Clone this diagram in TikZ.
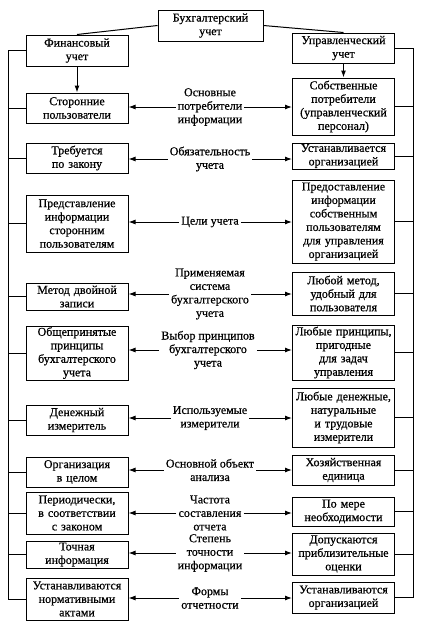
\documentclass[tikz,border=0pt]{standalone}
\usepackage{fontspec}
\setmainfont{Liberation Serif}[AutoFakeBold=0.6]
\usetikzlibrary{arrows.meta}

\begin{document}
\begin{tikzpicture}[x=1pt, y=-1pt,
    box/.style={draw, line width=1pt, align=center, text width=99pt, inner xsep=1.5pt, inner ysep=1pt, font=\fontsize{12}{13.5}\selectfont\bfseries},
    lbl/.style={align=center, inner sep=2pt, font=\fontsize{12}{13.5}\selectfont\bfseries},
    arr/.style={-{Latex[length=7pt,width=5pt]}, line width=1pt},
    rail/.style={line width=1pt}]
    \useasboundingbox (0,0) rectangle (429,625);

    % Вершина схемы
    \node (buh) at (210.5,25.5) [box, text width=102pt, minimum height=31] {Бухгалтерский\\учет};
    \node (fin) at (77,50.5) [box, minimum height=31] {Финансовый\\учет};
    \node (upr) at (343.5,48) [box, minimum height=30] {Управленческий\\учет};
    \draw[rail] (buh.west) -- (fin.north);
    \draw[rail] (buh.east) -- (upr.north);

    % Левая колонка: финансовый учет
    \node (storon) at (77,108) [box, minimum height=30] {Сторонние\\пользователи};
    \node (treb) at (77,158) [box, minimum height=30] {Требуется\\по закону};
    \node (predst) at (77,223.5) [box, minimum height=57] {Представление\\информации\\сторонним\\пользователям};
    \node (metod) at (77,296.5) [box, minimum height=27] {Метод двойной\\записи};
    \node (obshch) at (77,353) [box, minimum height=54] {Общепринятые\\принципы\\бухгалтерского\\учета};
    \node (denezh) at (77,420) [box, minimum height=30] {Денежный\\измеритель};
    \node (orgcel) at (77,472) [box, minimum height=30] {Организация\\в целом};
    \node (period) at (77,513) [box, minimum height=42] {Периодически,\\в соответствии\\с законом};
    \node (tochn) at (77,554.5) [box, minimum height=27] {Точная\\информация};
    \node (normakt) at (77,599) [box, minimum height=42] {Устанавливаются\\нормативными\\актами};

    % Правая колонка: управленческий учет
    \node (sobstv) at (343.5,106.5) [box, minimum height=57] {Собственные\\потребители\\(управленческий\\персонал)};
    \node (ustorg) at (343.5,156) [box, minimum height=26] {Устанавливается\\организацией};
    \node (predost) at (343.5,221.5) [box, minimum height=83] {Предоставление\\информации\\собственным\\пользователям\\для управления\\организацией};
    \node (lubmet) at (343.5,293.5) [box, minimum height=43] {Любой метод,\\удобный для\\пользователя};
    \node (lubprin) at (343.5,352.5) [box, minimum height=55] {Любые принципы,\\пригодные\\для задач\\управления};
    \node (lubizm) at (343.5,417.5) [box, minimum height=59] {Любые денежные,\\натуральные\\и трудовые\\измерители};
    \node (hozed) at (343.5,470) [box, minimum height=30] {Хозяйственная\\единица};
    \node (pomere) at (343.5,511.5) [box, minimum height=29] {По мере\\необходимости};
    \node (dopusk) at (343.5,554) [box, minimum height=42] {Допускаются\\приблизительные\\оценки};
    \node (ustorg2) at (343.5,597.5) [box, minimum height=31] {Устанавливаются\\организацией};

    \draw[arr] (fin.south) -- (storon.north);
    \draw[arr] (upr.south) -- (sobstv.north);

    % Признаки сравнения
    \node (osn) at (210,107) [lbl] {Основные\\потребители\\информации};
    \node (obyaz) at (210,159) [lbl] {Обязательность\\учета};
    \node (celi) at (210,222) [lbl] {Цели учета};
    \node (primen) at (210,294) [lbl] {Применяемая\\система\\бухгалтерского\\учета};
    \node (vybor) at (208,350) [lbl] {Выбор принципов\\бухгалтерского\\учета};
    \node (ispolz) at (210,418) [lbl] {Используемые\\измерители};
    \node (osnobj) at (210,470) [lbl] {Основной объект\\анализа};
    \node (chast) at (210,513) [lbl] {Частота\\составления\\отчета};
    \node (stepen) at (210,553) [lbl] {Степень\\точности\\информации};
    \node (formy) at (210,598) [lbl] {Формы\\отчетности};

    % Стрелки к колонкам
    \draw[arr] (osn.west) -- (osn.west -| storon.east);
    \draw[arr] (osn.east) -- (osn.east -| sobstv.west);
    \draw[arr] (obyaz.west) -- (obyaz.west -| treb.east);
    \draw[arr] (obyaz.east) -- (obyaz.east -| ustorg.west);
    \draw[arr] (celi.west) -- (celi.west -| predst.east);
    \draw[arr] (celi.east) -- (celi.east -| predost.west);
    \draw[arr] (primen.west) -- (primen.west -| metod.east);
    \draw[arr] (primen.east) -- (primen.east -| lubmet.west);
    \draw[arr] (vybor.west) -- (vybor.west -| obshch.east);
    \draw[arr] (vybor.east) -- (vybor.east -| lubprin.west);
    \draw[arr] (ispolz.west) -- (ispolz.west -| denezh.east);
    \draw[arr] (ispolz.east) -- (ispolz.east -| lubizm.west);
    \draw[arr] (osnobj.west) -- (osnobj.west -| orgcel.east);
    \draw[arr] (osnobj.east) -- (osnobj.east -| hozed.west);
    \draw[arr] (chast.west) -- (chast.west -| period.east);
    \draw[arr] (chast.east) -- (chast.east -| pomere.west);
    \draw[arr] (stepen.west) -- (stepen.west -| tochn.east);
    \draw[arr] (stepen.east) -- (stepen.east -| dopusk.west);
    \draw[arr] (formy.west) -- (formy.west -| normakt.east);
    \draw[arr] (formy.east) -- (formy.east -| ustorg2.west);

    % Боковые линии
    \coordinate (railL) at (8,0);
    \coordinate (railR) at (413,0);
    \draw[rail] (fin.west) -- (fin.west -| railL) -- (normakt.west -| railL) -- (normakt.west);
    \draw[rail] (storon.west) -- (storon.west -| railL);
    \draw[rail] (treb.west) -- (treb.west -| railL);
    \draw[rail] (predst.west) -- (predst.west -| railL);
    \draw[rail] (metod.west) -- (metod.west -| railL);
    \draw[rail] (obshch.west) -- (obshch.west -| railL);
    \draw[rail] (denezh.west) -- (denezh.west -| railL);
    \draw[rail] (orgcel.west) -- (orgcel.west -| railL);
    \draw[rail] (period.west) -- (period.west -| railL);
    \draw[rail] (tochn.west) -- (tochn.west -| railL);
    \draw[rail] (upr.east) -- (upr.east -| railR) -- (ustorg2.east -| railR) -- (ustorg2.east);
    \draw[rail] (sobstv.east) -- (sobstv.east -| railR);
    \draw[rail] (ustorg.east) -- (ustorg.east -| railR);
    \draw[rail] (predost.east) -- (predost.east -| railR);
    \draw[rail] (lubmet.east) -- (lubmet.east -| railR);
    \draw[rail] (lubprin.east) -- (lubprin.east -| railR);
    \draw[rail] (lubizm.east) -- (lubizm.east -| railR);
    \draw[rail] (hozed.east) -- (hozed.east -| railR);
    \draw[rail] (pomere.east) -- (pomere.east -| railR);
    \draw[rail] (dopusk.east) -- (dopusk.east -| railR);
\end{tikzpicture}
\end{document}
